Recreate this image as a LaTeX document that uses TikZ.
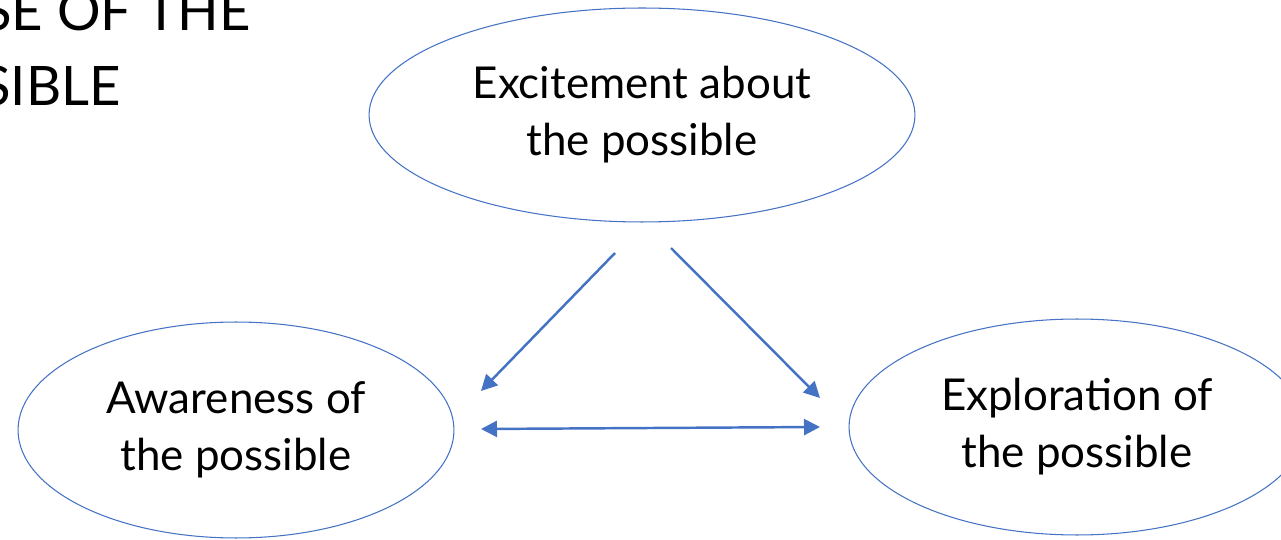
\documentclass[tikz,border=0pt]{standalone}
\usepackage{fontspec}
\setmainfont{Lato}
\usepackage{tikz}
\usetikzlibrary{shapes.geometric,arrows.meta,positioning}
\definecolor{pptblue}{RGB}{68,114,196}

\begin{document}
\begin{tikzpicture}[x=0.02cm, y=-0.02cm,
    bubble/.style={ellipse, draw=pptblue, line width=0.6pt, inner sep=0pt, align=center,
        font=\fontsize{25}{32.5}\selectfont},
    title/.style={anchor=base east, inner sep=0pt, font=\fontsize{31}{43}\selectfont},
    link/.style={pptblue, line width=1.4pt, -{Triangle[length=0.32cm, width=0.32cm]}},
    twoway/.style={link, {Triangle[length=0.32cm, width=0.32cm]}-{Triangle[length=0.32cm, width=0.32cm]}}]
    \useasboundingbox (0,0) rectangle (1281,540);

    % cut-off heading, top left
    \node[title] (head1) at (251,31) {SE OF THE};
    \node[title] (head2) at (121,106) {SIBLE};

    \node[bubble, minimum width=10.92cm, minimum height=4.28cm] (excite) at (642,115) {Excitement about\\the possible};
    \node[bubble, minimum width=8.72cm, minimum height=4.32cm] (aware) at (236,430) {Awareness of\\the possible};
    \node[bubble, minimum width=9.12cm, minimum height=4.32cm] (explore) at (1077,427) {Exploration of\\the possible};

    % arrow ends sit in the gaps between the bubbles
    \coordinate (excite-l) at (615,253);
    \coordinate (excite-r) at (671,248);
    \coordinate (aware-in) at (481,391);
    \coordinate (aware-side) at (481,429);
    \coordinate (explore-in) at (820,398);
    \coordinate (explore-side) at (820,427);

    \draw[link] (excite-l) -- (aware-in);
    \draw[link] (excite-r) -- (explore-in);
    \draw[twoway] (aware-side) -- (explore-side);
\end{tikzpicture}
\end{document}
